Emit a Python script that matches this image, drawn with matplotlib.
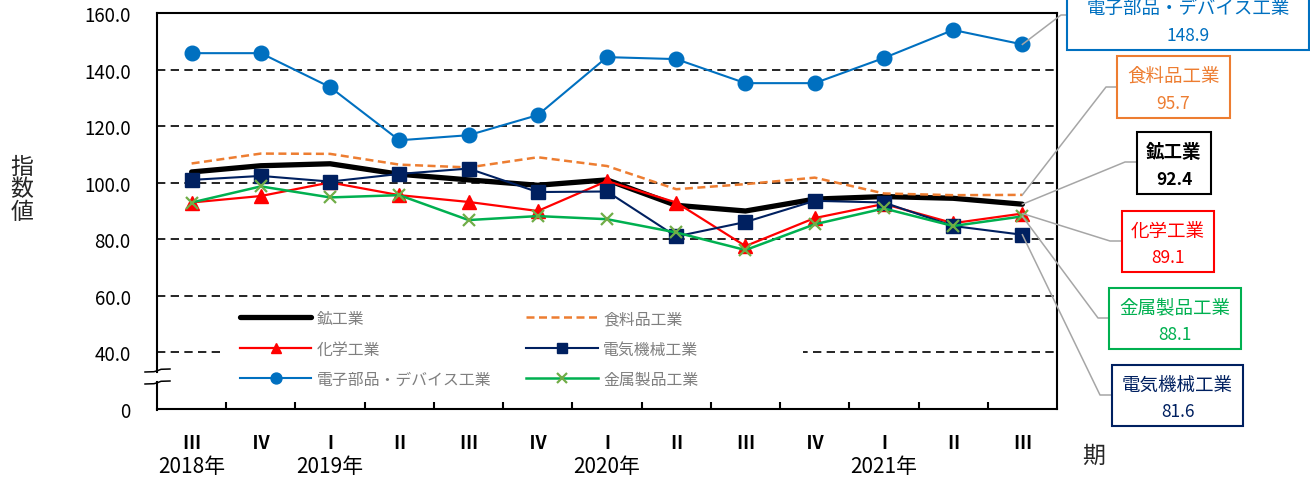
import matplotlib
matplotlib.use('Agg')
import numpy as np
import matplotlib.pyplot as plt
from matplotlib.patches import Rectangle
from matplotlib.lines import Line2D

W, H = 1310, 481
plt.rcParams['font.family'] = ['Noto Sans CJK JP', 'DejaVu Sans']

# ---------------- data ----------------
quarters = ['Ⅲ', 'Ⅳ', 'Ⅰ', 'Ⅱ', 'Ⅲ', 'Ⅳ', 'Ⅰ', 'Ⅱ', 'Ⅲ', 'Ⅳ', 'Ⅰ', 'Ⅱ', 'Ⅲ']
year_labels = ['2018年', '', '2019年', '', '', '', '2020年', '', '', '', '2021年', '', '']
series_names = ['鉱工業', '食料品工業', '化学工業', '電気機械工業',
                '電子部品・デバイス工業', '金属製品工業']
mining = [103.8, 106.0, 106.7, 103.0, 101.0, 99.1, 101.0, 92.0, 90.0, 94.2, 95.1, 94.5, 92.4]
food = [106.8, 110.3, 110.2, 106.4, 105.4, 109.0, 105.9, 97.7, 99.5, 101.8, 96.2, 95.6, 95.7]
chem = [93.0, 95.3, 100.1, 95.6, 93.2, 90.0, 100.6, 93.0, 77.6, 87.5, 92.5, 85.7, 89.1]
electric = [101.0, 102.4, 100.4, 103.1, 105.0, 96.7, 96.9, 81.0, 86.1, 93.6, 93.0, 84.7, 81.6]
electronics = [145.8, 145.8, 133.8, 115.0, 116.8, 123.9, 144.4, 143.7, 135.2, 135.2, 144.1, 154.0, 148.9]
metal = [93.0, 98.7, 94.8, 95.6, 86.8, 88.2, 87.1, 82.4, 76.2, 85.3, 90.9, 84.7, 88.1]
y_ticks = [20, 40, 60, 80, 100, 120, 140, 160]
y_tick_labels = ['0', '40.0', '60.0', '80.0', '100.0', '120.0', '140.0', '160.0']

# ---------------- figure ----------------
fig = plt.figure(figsize=(W / 100, H / 100), dpi=100)
ax = fig.add_axes([157 / W, 1 - 410 / H, 900 / W, 396 / H])
x = np.arange(len(quarters))

c_min, c_food, c_chem, c_elec, c_eltr, c_met = '#000000', '#ED7D31', '#FF0000', '#002060', '#0070C0', '#00B050'
colors = [c_min, c_food, c_chem, c_elec, c_eltr, c_met]

h_min, = ax.plot(x, mining, color=c_min, lw=3.8, solid_capstyle='round', zorder=3)
h_food, = ax.plot(x, food, color=c_food, lw=1.8, ls=(0, (3.2, 1.8)), zorder=3)
h_chem, = ax.plot(x, chem, color=c_chem, lw=1.6, marker='^', ms=10, mec=c_chem, zorder=3)
h_elec, = ax.plot(x, electric, color=c_elec, lw=1.5, marker='s', ms=9.5, zorder=3)
h_eltr, = ax.plot(x, electronics, color=c_eltr, lw=1.5, marker='o', ms=10.5, zorder=3)
h_met, = ax.plot(x, metal, color=c_met, lw=1.8, marker='x', ms=9, mec='#70AD47', mew=1.6, zorder=3)

ax.set_xlim(-0.5, len(quarters) - 0.5)
ax.set_ylim(20, 160)

# grid lines
for v in y_ticks[1:-1]:
    ax.axhline(v, color='black', lw=1.2, ls=(0, (5, 3.2)), zorder=1)
# white area behind the legend (covers grid line)
ax.add_patch(Rectangle(((222 - 157) / 900, (410 - 398) / 396), (803 - 222) / 900, (398 - 302) / 396,
                       transform=ax.transAxes, facecolor='white', edgecolor='none', zorder=1.5))

ax.set_yticks(y_ticks)
ax.set_yticklabels(y_tick_labels, fontsize=13.5, color='#000000')
ax.tick_params(axis='y', length=0, pad=19)

ax.set_xticks(x)
ax.set_xticklabels(quarters, fontsize=13, fontweight='bold')
ax.tick_params(axis='x', which='major', length=0, pad=17)
ax.set_xticks(np.arange(0.5, len(quarters) - 1, 1), minor=True)
ax.tick_params(axis='x', which='minor', direction='in', length=5, width=1.5)

for xi, lab in zip(x, year_labels):
    if lab:
        ax.text(xi, -(467 - 410) / 396, lab, transform=ax.get_xaxis_transform(),
                ha='center', va='center', fontsize=15)

for s in ['top', 'right', 'bottom']:
    ax.spines[s].set_linewidth(1.5)
ax.spines['left'].set_visible(False)


def fx(px):
    return px / W


def fy(py):
    return 1 - py / H


# left spine with break
lw_sp = 1.5
fig.add_artist(Line2D([fx(157), fx(157)], [fy(14), fy(373)], color='black', lw=lw_sp))
fig.add_artist(Line2D([fx(157), fx(157)], [fy(383), fy(410.5)], color='black', lw=lw_sp))
for yb in [373, 385]:
    fig.add_artist(Line2D([fx(145), fx(154), fx(158), fx(161), fx(170)],
                          [fy(yb), fy(yb - 0.3), fy(yb - 1.5), fy(yb - 2.7), fy(yb - 3)],
                          color='black', lw=1.1))

# legend
handles = [h_min, h_chem, h_eltr, h_food, h_elec, h_met]
labels = [series_names[0], series_names[2], series_names[4],
          series_names[1], series_names[3], series_names[5]]
leg = ax.legend(handles, labels, ncol=2, loc='upper left',
                bbox_to_anchor=((240 - 157) / 900, (410 - 311) / 396),
                frameon=False, fontsize=11.4, labelcolor='#7f7f7f', handlelength=4.5,
                handletextpad=0.35, columnspacing=2.2, labelspacing=0.85,
                borderpad=0, borderaxespad=0, numpoints=1, markerscale=0.75)
leg.set_zorder(4)

# axis labels
fig.text(fx(22), fy(190), '指\n数\n値', ha='center', va='center', fontsize=16.5,
         linespacing=0.95, color='#262626')
fig.text(fx(1094), fy(456), '期', ha='center', va='center', fontsize=16.5, color='#262626')

# callout boxes
all_series = [mining, food, chem, electric, electronics, metal]
box_px = {  # x0, y0, x1, y1 (pixels from top-left), elbow x, elbow y
    4: (1067, -11, 1309, 51, 1061, 16),
    1: (1117, 57, 1230, 119, 1106, 88),
    0: (1137, 133, 1211, 195, 1125, 163),
    2: (1122, 212, 1214, 273, 1110, 242),
    5: (1109, 289, 1241, 350, 1098, 319),
    3: (1112, 366, 1243, 427, 1100, 396),
}
fig.canvas.draw()
for idx, (x0, y0, x1, y1, ex, ey) in box_px.items():
    col = colors[idx]
    fig.add_artist(Rectangle((fx(x0), fy(y1)), (x1 - x0) / W, (y1 - y0) / H,
                             transform=fig.transFigure, facecolor='white',
                             edgecolor=col, lw=1.5, zorder=5))
    hgt = y1 - y0
    bold = 'bold' if idx == 0 else 'normal'
    tcol = '#000000' if idx == 0 else col
    fig.text(fx((x0 + x1) / 2), fy(y0 + 0.32 * hgt), series_names[idx], ha='center', va='center',
             fontsize=13.3, color=tcol, fontweight=bold, zorder=6)
    fig.text(fx((x0 + x1) / 2), fy(y0 + 0.76 * hgt), f'{all_series[idx][-1]:.1f}', ha='center',
             va='center', fontsize=12.5, color=tcol, fontweight=bold, zorder=6)
    # leader line from data point
    disp = ax.transData.transform((x[-1], all_series[idx][-1]))
    sx, sy = fig.transFigure.inverted().transform(disp)
    fig.add_artist(Line2D([sx, fx(ex), fx(x0)], [sy, fy(ey), fy(ey)],
                          color='#A6A6A6', lw=1.1, zorder=4.5))

fig.savefig('out.png', dpi=100)
